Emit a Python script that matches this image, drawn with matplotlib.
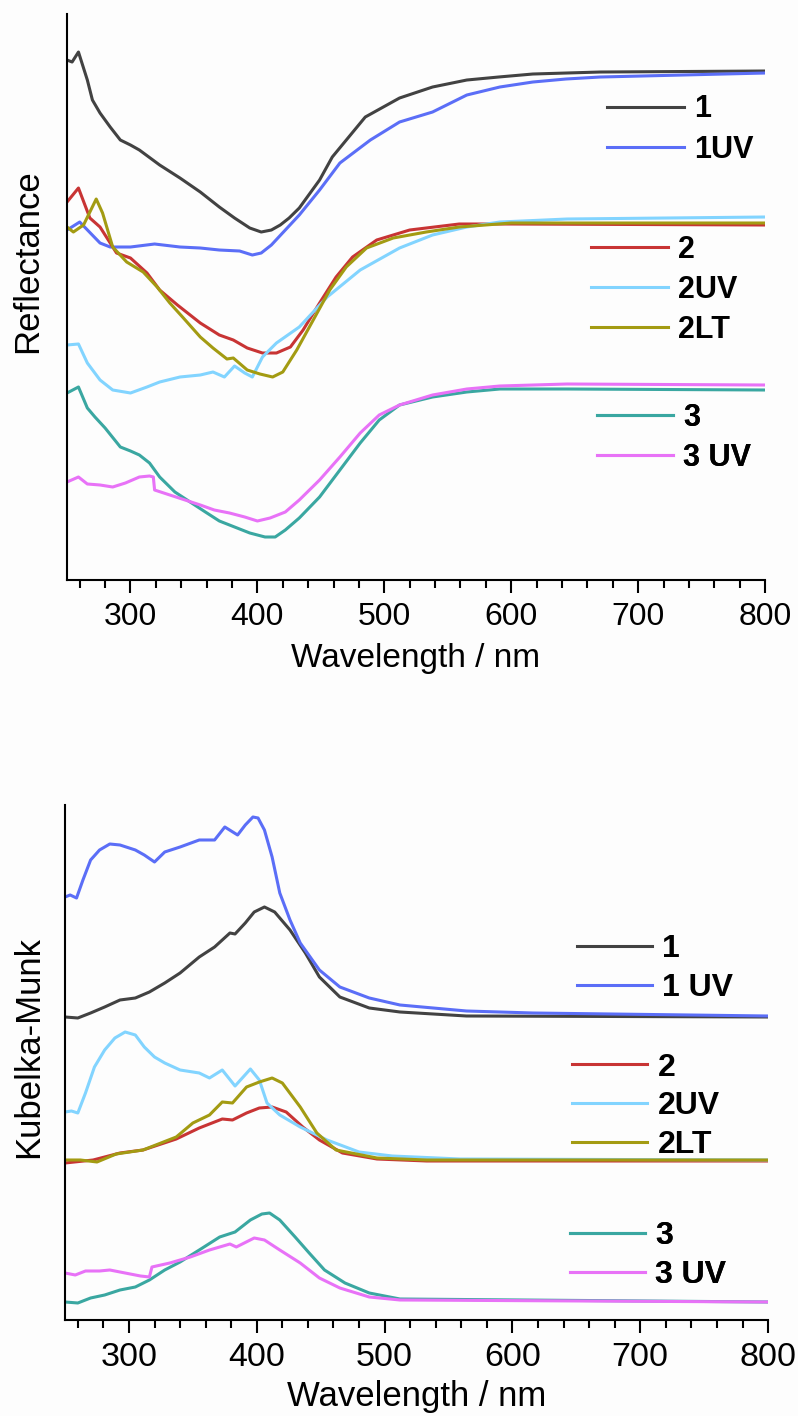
import matplotlib
matplotlib.use("Agg")
import matplotlib.pyplot as plt
from matplotlib.ticker import MultipleLocator

plt.rcParams['font.family'] = ['Liberation Sans', 'DejaVu Sans']

# ---- reflectance spectra (offset, arbitrary units) ----
r1_x = [250, 254, 259, 266, 270, 276, 284, 292, 300, 307, 323, 339, 355, 370, 382, 394, 403, 411,
        418, 425, 433, 449, 459, 485, 512, 538, 565, 590, 617, 670, 800]
r1_y = [52.0, 51.8, 52.8, 50.0, 48.0, 46.7, 45.3, 44.0, 43.5, 43.0, 41.5, 40.2, 38.8, 37.3, 36.2,
        35.2, 34.8, 35.0, 35.5, 36.2, 37.2, 40.0, 42.3, 46.3, 48.2, 49.3, 50.0, 50.3, 50.6, 50.8, 50.9]

r1uv_x = [250, 260, 276, 284, 300, 319, 339, 355, 370, 386, 396, 403, 411, 422, 433, 449, 465,
          489, 512, 538, 565, 591, 617, 643, 670, 800]
r1uv_y = [35.0, 35.8, 33.7, 33.3, 33.3, 33.6, 33.3, 33.2, 33.0, 32.9, 32.5, 32.7, 33.5, 35.0, 36.5,
          39.0, 41.7, 44.0, 45.8, 46.8, 48.5, 49.3, 49.8, 50.1, 50.3, 50.7]

r2_x = [250, 259, 268, 276, 289, 300, 313, 323, 337, 355, 370, 381, 392, 404, 415, 426, 436, 449,
        462, 475, 494, 520, 559, 600, 800]
r2_y = [37.8, 39.2, 36.2, 35.3, 32.7, 32.2, 30.7, 29.0, 27.5, 25.7, 24.5, 24.0, 23.2, 22.7, 22.7,
        23.3, 25.0, 27.7, 30.3, 32.3, 34.0, 35.0, 35.6, 35.6, 35.5]

r2uv_x = [250, 259, 266, 276, 286, 300, 313, 323, 339, 355, 365, 374, 382, 390, 396, 404, 415,
          433, 455, 481, 512, 538, 565, 591, 644, 800]
r2uv_y = [23.5, 23.6, 21.7, 20.0, 19.0, 18.7, 19.3, 19.8, 20.3, 20.5, 20.8, 20.3, 21.4, 20.7, 20.3,
          22.3, 23.7, 25.3, 28.3, 31.0, 33.2, 34.5, 35.3, 35.8, 36.1, 36.3]

r2lt_x = [250, 255, 263, 273, 278, 286, 297, 310, 321, 331, 341, 355, 365, 376, 381, 392, 402,
          412, 420, 431, 444, 457, 470, 486, 507, 533, 559, 600, 800]
r2lt_y = [35.3, 34.8, 35.5, 38.1, 36.7, 33.3, 31.8, 30.8, 29.3, 27.7, 26.3, 24.3, 23.2, 22.1, 22.2,
          21.0, 20.6, 20.3, 20.8, 23.0, 26.0, 29.0, 31.3, 33.2, 34.2, 34.8, 35.3, 35.7, 35.7]

r3_x = [250, 259, 266, 272, 280, 292, 300, 307, 315, 323, 335, 347, 359, 370, 382, 394, 406, 414,
        422, 433, 449, 465, 481, 496, 512, 538, 565, 591, 644, 800]
r3_y = [18.7, 19.3, 17.2, 16.3, 15.2, 13.3, 12.9, 12.5, 11.7, 10.3, 8.8, 7.8, 6.8, 5.9, 5.3, 4.7,
        4.3, 4.3, 5.0, 6.2, 8.3, 11.0, 13.7, 16.0, 17.5, 18.3, 18.8, 19.1, 19.1, 19.0]

r3uv_x = [250, 259, 266, 276, 286, 296, 307, 315, 318, 319, 331, 343, 355, 366, 378, 390, 400,
          410, 422, 433, 449, 465, 481, 496, 512, 538, 565, 591, 644, 800]
r3uv_y = [9.8, 10.3, 9.6, 9.5, 9.3, 9.7, 10.3, 10.4, 10.3, 9.0, 8.5, 8.0, 7.5, 7.0, 6.7, 6.3, 5.9,
          6.2, 6.8, 8.0, 10.0, 12.3, 14.7, 16.5, 17.5, 18.5, 19.1, 19.4, 19.6, 19.5]

# ---- Kubelka-Munk spectra (offset, arbitrary units) ----
k1_x = [250, 260, 270, 281, 293, 305, 316, 328, 340, 355, 367, 379, 383, 391, 398, 406, 414, 426,
        438, 449, 465, 488, 512, 564, 800]
k1_y = [30.3, 30.2, 30.7, 31.3, 32.0, 32.2, 32.8, 33.7, 34.7, 36.3, 37.3, 38.7, 38.6, 39.7, 40.8,
        41.3, 40.8, 39.0, 36.7, 34.3, 32.3, 31.2, 30.8, 30.4, 30.3]

k1uv_x = [250, 254, 259, 264, 270, 277, 285, 293, 305, 312, 320, 328, 340, 355, 367, 375, 385,
          391, 397, 401, 406, 412, 418, 426, 434, 449, 465, 488, 512, 564, 616, 800]
k1uv_y = [42.3, 42.5, 42.2, 44.0, 46.0, 47.0, 47.6, 47.5, 47.0, 46.5, 45.8, 46.8, 47.3, 48.0, 48.0,
          49.3, 48.5, 49.5, 50.3, 50.2, 49.0, 46.3, 42.7, 40.0, 37.7, 35.0, 33.3, 32.2, 31.5, 30.9,
          30.7, 30.4]

k2_x = [250, 272, 293, 311, 337, 355, 373, 381, 392, 402, 412, 423, 436, 449, 467, 494, 533, 800]
k2_y = [15.7, 16.0, 16.7, 17.0, 18.1, 19.2, 20.1, 20.0, 20.7, 21.2, 21.3, 20.8, 19.3, 18.0, 16.7,
        16.1, 15.9, 15.9]

k2uv_x = [250, 255, 260, 266, 273, 281, 289, 297, 305, 312, 320, 328, 340, 355, 363, 373, 383,
          395, 402, 408, 418, 434, 455, 480, 506, 559, 800]
k2uv_y = [20.8, 20.9, 20.7, 22.7, 25.3, 27.0, 28.2, 28.8, 28.5, 27.3, 26.3, 25.7, 25.0, 24.7, 24.2,
          25.0, 23.4, 25.1, 24.0, 21.7, 20.5, 19.3, 18.0, 16.8, 16.4, 16.1, 16.0]

k2lt_x = [250, 262, 275, 290, 311, 337, 350, 363, 373, 381, 392, 402, 412, 420, 434, 447, 462,
          494, 533, 800]
k2lt_y = [16.0, 16.0, 15.8, 16.6, 17.0, 18.3, 19.7, 20.5, 21.8, 21.7, 23.3, 23.8, 24.2, 23.7, 21.3,
          18.7, 17.0, 16.2, 16.0, 16.0]

k3_x = [250, 260, 270, 281, 293, 305, 316, 328, 340, 355, 371, 383, 395, 404, 410, 418, 430, 441,
        453, 469, 488, 512, 800]
k3_y = [1.8, 1.7, 2.2, 2.5, 3.0, 3.3, 4.0, 5.0, 5.8, 7.0, 8.3, 8.8, 10.0, 10.6, 10.7, 10.0, 8.3, 6.7,
        5.0, 3.7, 2.7, 2.1, 1.8]

k3uv_x = [250, 258, 266, 277, 285, 297, 309, 316, 318, 332, 348, 363, 379, 384, 398, 406, 418, 434,
          449, 465, 488, 512, 800]
k3uv_y = [4.7, 4.5, 4.9, 4.9, 5.0, 4.7, 4.4, 4.3, 5.3, 5.7, 6.3, 7.0, 7.6, 7.3, 8.2, 8.0, 7.0, 5.7,
          4.2, 3.2, 2.3, 2.0, 1.8]

C_BLACK = '#424242'
C_BLUE = '#5b6ef7'
C_RED = '#c83434'
C_LBLUE = '#82d4ff'
C_OLIVE = '#a39b12'
C_TEAL = '#3aa7a1'
C_MAGENTA = '#e872f7'

LW = 2.2


def style_axes(ax, ylabel, ymax, tick_size, label_size, xlabel_pad, ylabel_xy):
    ax.set_xlim(250, 800)
    ax.set_ylim(0, ymax)
    for side in ('top', 'right'):
        ax.spines[side].set_visible(False)
    for side in ('left', 'bottom'):
        ax.spines[side].set_linewidth(1.5)
    ax.set_yticks([])
    ax.xaxis.set_major_locator(MultipleLocator(100))
    ax.xaxis.set_minor_locator(MultipleLocator(20))
    ax.tick_params(axis='x', which='major', direction='out', length=9, width=1.5,
                   labelsize=tick_size, pad=7)
    ax.tick_params(axis='x', which='minor', direction='out', length=5.5, width=1.5)
    ax.set_xlabel('Wavelength / nm', fontsize=label_size, labelpad=xlabel_pad)
    ax.set_ylabel(ylabel, fontsize=25)
    ax.yaxis.set_label_coords(*ylabel_xy)
    ax.set_facecolor('#fdfdfd')


def add_legends(ax, groups, size, spacing, hlen):
    for handles, labels, anchor in groups:
        leg = ax.legend(handles, labels, bbox_to_anchor=anchor, loc='center left',
                        frameon=False, prop={'weight': 'bold', 'size': size},
                        handlelength=hlen, handletextpad=0.33, labelspacing=spacing,
                        borderpad=0, borderaxespad=0)
        ax.add_artist(leg)


fig = plt.figure(figsize=(7.98, 14.16), dpi=100, facecolor='#fdfdfd')
ax_r = fig.add_axes([0.084, 0.5904, 0.8747, 0.3997])
ax_k = fig.add_axes([0.0815, 0.0678, 0.881, 0.3637])

# reflectance panel
h1, = ax_r.plot(r1_x, r1_y, color=C_BLACK, lw=LW)
h1uv, = ax_r.plot(r1uv_x, r1uv_y, color=C_BLUE, lw=LW)
h2, = ax_r.plot(r2_x, r2_y, color=C_RED, lw=LW)
h2uv, = ax_r.plot(r2uv_x, r2uv_y, color=C_LBLUE, lw=LW)
h2lt, = ax_r.plot(r2lt_x, r2lt_y, color=C_OLIVE, lw=LW)
h3, = ax_r.plot(r3_x, r3_y, color=C_TEAL, lw=LW)
h3uv, = ax_r.plot(r3uv_x, r3uv_y, color=C_MAGENTA, lw=LW)
style_axes(ax_r, 'Reflectance', 56.6, 23, 24, 8, (-0.033, 0.564))
add_legends(ax_r, [
    ([h1, h1uv], ['1', '1UV'], (0.774, 0.796)),
    ([h2, h2uv, h2lt], ['2', '2UV', '2LT'], (0.751, 0.513)),
    ([h3, h3uv], ['3', '3 UV'], (0.759, 0.251)),
], 22, 0.33, 2.5)

# Kubelka-Munk panel
g1, = ax_k.plot(k1_x, k1_y, color=C_BLACK, lw=LW)
g1uv, = ax_k.plot(k1uv_x, k1uv_y, color=C_BLUE, lw=LW)
g2, = ax_k.plot(k2_x, k2_y, color=C_RED, lw=LW)
g2uv, = ax_k.plot(k2uv_x, k2uv_y, color=C_LBLUE, lw=LW)
g2lt, = ax_k.plot(k2lt_x, k2lt_y, color=C_OLIVE, lw=LW)
g3, = ax_k.plot(k3_x, k3_y, color=C_TEAL, lw=LW)
g3uv, = ax_k.plot(k3uv_x, k3uv_y, color=C_MAGENTA, lw=LW)
style_axes(ax_k, 'Kubelka-Munk', 51.5, 24.5, 25, 5, (-0.028, 0.530))
add_legends(ax_k, [
    ([g1, g1uv], ['1', '1 UV'], (0.728, 0.682)),
    ([g2, g2uv, g2lt], ['2', '2UV', '2LT'], (0.721, 0.415)),
    ([g3, g3uv], ['3', '3 UV'], (0.718, 0.125)),
], 23, 0.27, 2.35)

fig.savefig('out.png', dpi=100, facecolor=fig.get_facecolor())
